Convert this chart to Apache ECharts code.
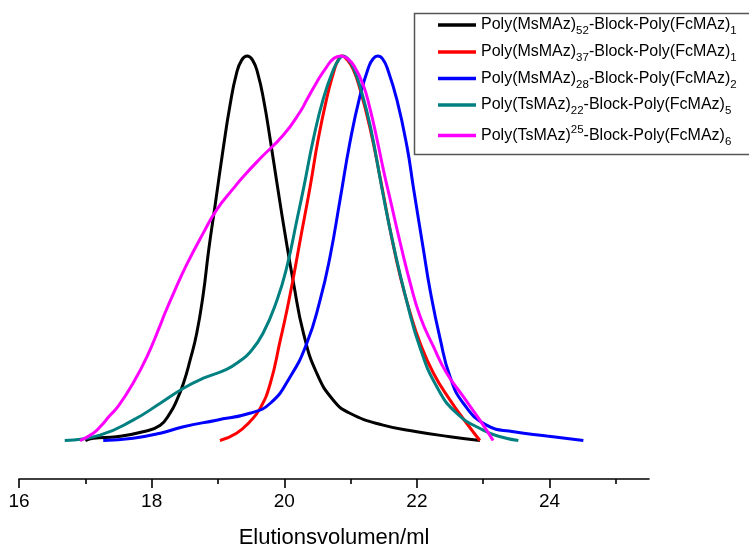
<!DOCTYPE html>
<html><head><meta charset="utf-8">
<script src="https://cdn.jsdelivr.net/npm/echarts@6/dist/echarts.min.js"></script>
<style>html,body{margin:0;padding:0;background:#fff}#c{width:749px;height:549px}</style>
</head><body><div id="c"></div>
<script>
// ---- data ----
const seriesNames = ['Ms52-Fc1', 'Ms37-Fc1', 'Ms28-Fc2', 'Ts22-Fc5', 'Ts25-Fc6'];
const legendLabels = [
  '{n|Poly(MsMAz)}{sub|52}{n|-Block-Poly(FcMAz)}{sub|1}',
  '{n|Poly(MsMAz)}{sub|37}{n|-Block-Poly(FcMAz)}{sub|1}',
  '{n|Poly(MsMAz)}{sub|28}{n|-Block-Poly(FcMAz)}{sub|2}',
  '{n|Poly(TsMAz)}{sub|22}{n|-Block-Poly(FcMAz)}{sub|5}',
  '{n|Poly(TsMAz)}{sup|25}{n|-Block-Poly(FcMAz)}{sub|6}'
];
const xMajorTicks = [16, 18, 20, 22, 24];
const xMinorTicks = [17, 19, 21, 23, 25];

const blackData = [[17.0,0.0],[17.12,0.006],[17.47,0.010],[17.87,0.023],[18.13,0.040],[18.28,0.072],[18.38,0.105],[18.48,0.149],[18.58,0.209],[18.68,0.279],[18.78,0.383],[18.86,0.495],[18.96,0.615],[19.08,0.76],[19.18,0.87],[19.28,0.955],[19.36,0.99],[19.44,1.0],[19.52,0.99],[19.60,0.955],[19.69,0.885],[19.79,0.781],[19.89,0.669],[20.01,0.539],[20.14,0.409],[20.29,0.279],[20.49,0.175],[20.74,0.105],[20.99,0.071],[21.49,0.040],[22.00,0.023],[22.50,0.010],[22.95,0.0]];
const redData = [[19.03,0.0],[19.28,0.019],[19.48,0.049],[19.64,0.085],[19.79,0.149],[19.94,0.261],[20.04,0.339],[20.14,0.426],[20.24,0.521],[20.39,0.66],[20.51,0.782],[20.64,0.89],[20.74,0.955],[20.80,0.985],[20.87,1.0],[20.95,0.99],[21.04,0.965],[21.14,0.915],[21.29,0.815],[21.45,0.68],[21.60,0.545],[21.75,0.426],[21.90,0.331],[22.05,0.253],[22.25,0.175],[22.50,0.105],[22.75,0.045],[22.95,0.0]];
const blueData = [[17.27,0.0],[17.72,0.006],[18.13,0.019],[18.48,0.036],[18.98,0.053],[19.48,0.071],[19.79,0.097],[20.09,0.166],[20.34,0.253],[20.54,0.365],[20.69,0.478],[20.84,0.625],[20.99,0.775],[21.14,0.895],[21.27,0.97],[21.34,0.993],[21.41,1.0],[21.48,0.993],[21.56,0.965],[21.70,0.885],[21.85,0.765],[21.95,0.655],[22.10,0.495],[22.20,0.39],[22.35,0.265],[22.50,0.166],[22.70,0.097],[23.05,0.040],[23.46,0.023],[23.96,0.012],[24.51,0.0]];
const tealData = [[16.69,0.0],[17.22,0.014],[17.72,0.053],[18.13,0.097],[18.48,0.136],[18.78,0.162],[19.13,0.185],[19.33,0.207],[19.48,0.229],[19.68,0.279],[19.89,0.365],[20.04,0.452],[20.19,0.573],[20.29,0.655],[20.44,0.785],[20.59,0.89],[20.74,0.964],[20.82,0.99],[20.89,1.0],[20.97,0.99],[21.06,0.962],[21.16,0.91],[21.30,0.815],[21.49,0.64],[21.65,0.505],[21.85,0.36],[22.05,0.24],[22.30,0.140],[22.60,0.071],[23.00,0.027],[23.26,0.010],[23.53,0.0]];
const magentaData = [[16.92,0.0],[17.12,0.019],[17.22,0.035],[17.37,0.065],[17.50,0.09],[17.72,0.149],[17.93,0.218],[18.13,0.300],[18.20,0.331],[18.33,0.383],[18.53,0.458],[18.78,0.540],[18.98,0.600],[19.23,0.655],[19.38,0.686],[19.64,0.734],[19.99,0.795],[20.24,0.855],[20.34,0.886],[20.49,0.932],[20.64,0.972],[20.75,0.994],[20.85,1.0],[20.95,0.994],[21.06,0.972],[21.19,0.925],[21.29,0.865],[21.40,0.782],[21.50,0.70],[21.60,0.625],[21.75,0.513],[21.90,0.409],[22.05,0.322],[22.25,0.244],[22.45,0.175],[22.70,0.114],[22.95,0.053],[23.15,0.0]];

const allData = [blackData, redData, blueData, tealData, magentaData];
const colors = ['#000000', '#ff0000', '#0000ff', '#008080', '#ff00ff'];
const legendRowCenters = [29, 56, 82.5, 109, 135.5];

const FONT = "'Liberation Sans', Arial, sans-serif";
const rich = {
  n: {fontSize: 16, fontFamily: FONT, color: '#000', lineHeight: 24, verticalAlign: 'middle'},
  sub: {fontSize: 11.5, fontFamily: FONT, color: '#000', lineHeight: 11.5, verticalAlign: 'bottom'},
  sup: {fontSize: 11.5, fontFamily: FONT, color: '#000', lineHeight: 11.5, verticalAlign: 'top'}
};

const chart = echarts.init(document.getElementById('c'), null, {renderer: 'canvas'});
chart.setOption({
  animation: false,
  backgroundColor: '#fff',
  grid: {left: 19, right: 100, top: 56, bottom: 70, containLabel: false, outerBoundsMode: 'none'},
  xAxis: [{
    type: 'value', min: 16, max: 25.5, interval: 2,
    name: 'Elutionsvolumen/ml', nameLocation: 'middle', nameGap: 48,
    nameTextStyle: {fontSize: 22, fontFamily: FONT, color: '#000'},
    axisLine: {show: true, onZero: false, lineStyle: {color: '#000', width: 1.6}},
    axisTick: {show: true, length: 9, lineStyle: {color: '#000', width: 1.6}, customValues: xMajorTicks},
    axisLabel: {fontSize: 19, fontFamily: FONT, color: '#000', margin: 13, customValues: xMajorTicks},
    splitLine: {show: false}
  }, {
    type: 'value', min: 16, max: 25.5, interval: 1, position: 'bottom', offset: 0, gridIndex: 0,
    axisLine: {show: false, onZero: false},
    axisTick: {show: true, length: 5, lineStyle: {color: '#000', width: 1.6}, customValues: xMinorTicks},
    axisLabel: {show: false},
    splitLine: {show: false}
  }],
  yAxis: {type: 'value', min: -0.1, max: 1.0, show: false, splitLine: {show: false}},
  legend: seriesNames.map((nm, i) => ({
    data: [nm], left: 438, top: legendRowCenters[i] - 12, orient: 'vertical',
    padding: 0, itemGap: 0, itemWidth: 38, itemHeight: 3.5, icon: 'rect',
    formatter: () => legendLabels[i],
    textStyle: {rich: rich, fontSize: 16},
    selectedMode: false
  })),
  graphic: [{
    type: 'rect', left: 412, top: 11,
    shape: {width: 400, height: 141},
    style: {fill: 'none', stroke: '#555', lineWidth: 1.5},
    silent: true
  }],
  series: seriesNames.map((nm, i) => ({
    name: nm, type: 'line', data: allData[i],
    xAxisIndex: 0, yAxisIndex: 0,
    smooth: 0.5, symbol: 'none', clip: false,
    lineStyle: {color: colors[i], width: 3},
    itemStyle: {color: colors[i]}
  }))
});
</script></body></html>
